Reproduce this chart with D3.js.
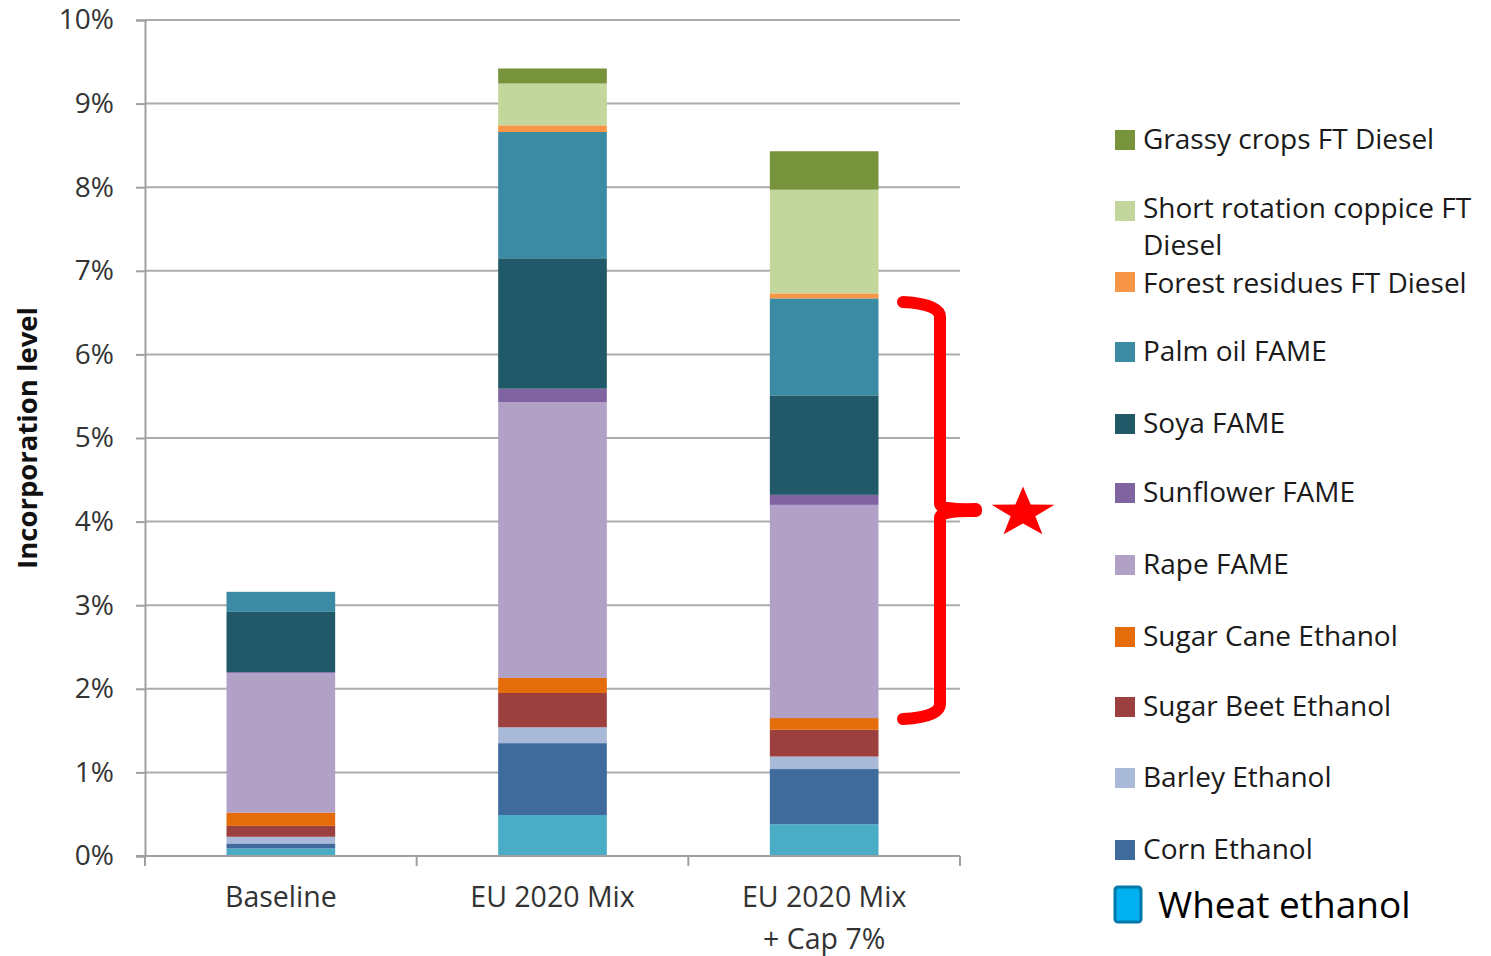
<!DOCTYPE html>
<html lang="en">
<head>
    <meta charset="UTF-8">
    <title>Incorporation level</title>
    <style>
        body { margin: 0; background: #fff; }
    </style>
</head>
<body>

    <div id="chart"></div>

    <script src="https://d3js.org/d3.v7.min.js"></script>
    <script>

    // data, % of transport energy
    const categories = ["Baseline", "EU 2020 Mix", "EU 2020 Mix|+ Cap 7%"];

    const wheat     = [0.09, 0.49, 0.38];
    const corn      = [0.06, 0.86, 0.66];
    const barley    = [0.08, 0.19, 0.15];
    const sugarBeet = [0.13, 0.41, 0.32];
    const sugarCane = [0.16, 0.18, 0.14];
    const rape      = [1.67, 3.30, 2.55];
    const sunflower = [0.01, 0.16, 0.12];
    const soya      = [0.72, 1.56, 1.19];
    const palm      = [0.24, 1.51, 1.16];
    const forest    = [0.00, 0.08, 0.06];
    const coppice   = [0.00, 0.50, 1.24];
    const grassy    = [0.00, 0.18, 0.46];

    const seriesNames = ["Wheat ethanol", "Corn Ethanol", "Barley Ethanol", "Sugar Beet Ethanol",
        "Sugar Cane Ethanol", "Rape FAME", "Sunflower FAME", "Soya FAME", "Palm oil FAME",
        "Forest residues FT Diesel", "Short rotation coppice FT Diesel", "Grassy crops FT Diesel"];
    const seriesValues = [wheat, corn, barley, sugarBeet, sugarCane, rape, sunflower, soya, palm,
        forest, coppice, grassy];
    const seriesColors = ["#4BACC6", "#3E6A9C", "#A9B9D8", "#9C3F3F", "#E46C0A", "#B2A1C7",
        "#8064A2", "#215968", "#3C8BA4", "#F79646", "#C3D69B", "#77933C"];

    const yTicks = [0, 1, 2, 3, 4, 5, 6, 7, 8, 9, 10];

    // build rows for d3.stack
    const rows = categories.map((c, i) => {
        const r = { cat: c };
        seriesNames.forEach((s, j) => { r[s] = seriesValues[j][i]; });
        return r;
    });

    // set up the page
    const W = 1491, H = 956;
    const plot = { left: 145, right: 960, top: 20, bottom: 856 };
    const font = "'Open Sans', sans-serif";

    const svg = d3.select("#chart")
        .append("svg")
        .attr("width", W)
        .attr("height", H)
        .style("font-family", font);

    const x = d3.scaleBand()
        .domain(categories)
        .range([plot.left, plot.right])
        .paddingInner(0.6)
        .paddingOuter(0.3);

    const y = d3.scaleLinear()
        .domain([0, 10])
        .range([plot.bottom, plot.top]);

    // gridlines
    svg.append("g")
        .selectAll("line")
        .data(yTicks.filter(d => d > 0))
        .join("line")
        .attr("x1", plot.left)
        .attr("x2", plot.right)
        .attr("y1", d => y(d))
        .attr("y2", d => y(d))
        .attr("stroke", "#ABABAB")
        .attr("stroke-width", 2);

    // stacked bars
    const stack = d3.stack().keys(seriesNames);
    const stacked = stack(rows);

    svg.append("g")
        .selectAll("g")
        .data(stacked)
        .join("g")
        .attr("fill", (d, i) => seriesColors[i])
        .selectAll("rect")
        .data(d => d)
        .join("rect")
        .attr("x", d => x(d.data.cat))
        .attr("y", d => y(d[1]))
        .attr("width", x.bandwidth())
        .attr("height", d => y(d[0]) - y(d[1]));

    // y axis
    const yAxis = svg.append("g")
        .attr("transform", `translate(${plot.left},0)`)
        .call(d3.axisLeft(y).tickValues(yTicks).tickFormat(d => d + "%").tickSize(9).tickPadding(22));
    yAxis.selectAll("line, path").attr("stroke", "#A0A0A0").attr("stroke-width", 2);
    yAxis.selectAll("text")
        .attr("font-family", font)
        .attr("font-size", 28)
        .attr("fill", "#333");

    // x axis line and ticks at category borders
    svg.append("line")
        .attr("x1", plot.left - 9).attr("x2", plot.right)
        .attr("y1", plot.bottom).attr("y2", plot.bottom)
        .attr("stroke", "#A0A0A0").attr("stroke-width", 2);

    const borders = d3.range(categories.length + 1).map(i => plot.left + i * x.step());
    svg.append("g")
        .selectAll("line")
        .data(borders)
        .join("line")
        .attr("x1", d => d).attr("x2", d => d)
        .attr("y1", plot.bottom).attr("y2", plot.bottom + 10)
        .attr("stroke", "#A0A0A0").attr("stroke-width", 2);

    // category labels
    svg.append("g")
        .selectAll("text")
        .data(categories)
        .join("text")
        .attr("x", d => x(d) + x.bandwidth() / 2)
        .attr("y", 907)
        .attr("text-anchor", "middle")
        .attr("font-size", 28.5)
        .attr("fill", "#333")
        .selectAll("tspan")
        .data(d => d.split("|"))
        .join("tspan")
        .attr("x", function () { return d3.select(this.parentNode).attr("x"); })
        .attr("dy", (d, i) => i === 0 ? 0 : 42)
        .text(d => d);

    // y axis title
    svg.append("text")
        .attr("transform", "translate(37,438) rotate(-90)")
        .attr("text-anchor", "middle")
        .attr("font-size", 27.5)
        .attr("font-weight", "bold")
        .attr("fill", "#111")
        .text("Incorporation level");

    // legend (top to bottom = top of stack first), Wheat drawn separately
    const legendItems = seriesNames.slice(1).map((s, i) => ({ name: s, color: seriesColors[i + 1] })).reverse();
    const legendY = [140, 209, 284, 352, 424, 493, 565, 637, 707, 778, 850];

    const legend = svg.append("g")
        .selectAll("g")
        .data(legendItems)
        .join("g")
        .attr("transform", (d, i) => `translate(1115,${legendY[i]})`);

    legend.append("rect")
        .attr("x", 0).attr("y", (d, i) => i === 1 ? -8 : (i === 2 ? -12 : -10))
        .attr("width", 20).attr("height", 20)
        .attr("fill", d => d.color);

    legend.append("text")
        .attr("x", 28)
        .attr("y", 9)
        .attr("font-size", 28)
        .attr("fill", "#1A1A1A")
        .each(function (d) {
            const t = d3.select(this);
            if (d.name.startsWith("Short rotation")) {
                t.append("tspan").attr("x", 28).text("Short rotation coppice FT");
                t.append("tspan").attr("x", 28).attr("dy", 37).text("Diesel");
            } else {
                t.text(d.name);
            }
        });

    // wheat ethanol legend entry (larger, added on top)
    svg.append("rect")
        .attr("x", 1115).attr("y", 887)
        .attr("width", 26).attr("height", 35)
        .attr("rx", 3)
        .attr("fill", "#00B0F0")
        .attr("stroke", "#0078A8")
        .attr("stroke-width", 3);

    svg.append("text")
        .attr("x", 1158)
        .attr("y", 918)
        .attr("font-size", 37)
        .attr("fill", "#000")
        .text(seriesNames[0]);

    // red bracket + star
    const bx = 940, bTop = 305, bMid = 510, bBot = 716;
    const bracket = d3.path();
    bracket.moveTo(903, bTop - 3);
    bracket.quadraticCurveTo(bx, bTop - 1, bx, bTop + 12);
    bracket.lineTo(bx, bMid - 6);
    bracket.quadraticCurveTo(bx, bMid, 976, bMid - 1);
    bracket.moveTo(976, bMid + 1);
    bracket.quadraticCurveTo(bx, bMid, bx, bMid + 8);
    bracket.lineTo(bx, bBot - 12);
    bracket.quadraticCurveTo(bx, bBot + 1, 903, bBot + 3);

    svg.append("path")
        .attr("d", bracket.toString())
        .attr("fill", "none")
        .attr("stroke", "#FF0000")
        .attr("stroke-width", 12)
        .attr("stroke-linecap", "round")
        .attr("stroke-linejoin", "round");

    // star, slightly flattened like the source
    const starPts = d3.range(10).map(i => {
        const r = i % 2 === 0 ? 33 : 13;
        const a = -Math.PI / 2 + i * Math.PI / 5;
        return [1023 + r * Math.cos(a), 513 + 0.8 * r * Math.sin(a)];
    });
    svg.append("polygon")
        .attr("points", starPts.map(p => p.join(",")).join(" "))
        .attr("fill", "#FF0000");

    </script>
</body>
</html>
